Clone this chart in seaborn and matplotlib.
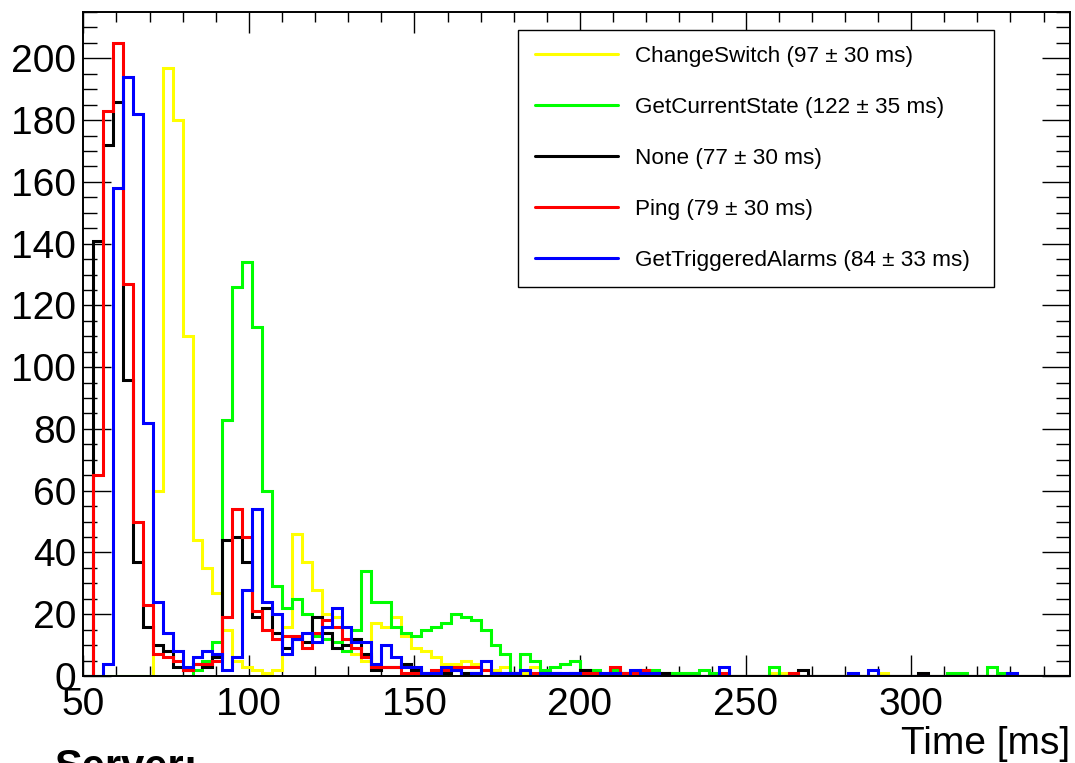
import numpy as np
import pandas as pd
import matplotlib
matplotlib.use("Agg")
import matplotlib.pyplot as plt
import seaborn as sns
from matplotlib.lines import Line2D
from matplotlib.ticker import MultipleLocator

# ---------------- data (counts per 3 ms bin, starting at 50 ms) ----------------
bin_start = 50
bin_width = 3
n_bins = 100

change_switch = [
    0, 0, 0, 0, 0, 0, 0, 60, 197, 180,
    110, 44, 35, 27, 15, 5, 3, 2, 1, 2,
    16, 46, 37, 28, 20, 19, 12, 7, 5, 17,
    16, 19, 13, 9, 8, 6, 4, 4, 5, 4,
    2, 2, 3, 0, 1, 3, 1, 0, 0, 0,
    1, 1, 0, 1, 0, 1, 0, 0, 0, 1,
    1, 0, 0, 1, 0, 0, 0, 0, 0, 1,
    1, 0, 0, 0, 0, 0, 0, 0, 0, 0,
    1, 0, 0, 0, 0, 0, 0, 0, 0, 0,
    0, 0, 0, 0, 0, 0, 0, 0, 0, 0,
]
get_current_state = [
    0, 0, 0, 0, 0, 0, 0, 0, 0, 0,
    0, 2, 5, 11, 83, 126, 134, 113, 60, 29,
    22, 25, 20, 13, 12, 11, 8, 15, 34, 24,
    24, 16, 14, 13, 15, 16, 17, 20, 19, 18,
    15, 10, 7, 0, 7, 5, 2, 3, 4, 5,
    2, 2, 1, 2, 1, 1, 1, 2, 1, 1,
    1, 1, 2, 1, 0, 0, 0, 0, 0, 3,
    0, 0, 0, 0, 0, 0, 0, 0, 0, 0,
    0, 0, 0, 0, 0, 0, 0, 1, 1, 0,
    0, 3, 1, 0, 0, 0, 0, 0, 0, 0,
]
none_req = [
    0, 141, 172, 186, 96, 37, 16, 10, 8, 3,
    2, 4, 3, 6, 44, 45, 37, 19, 22, 14,
    9, 12, 11, 19, 14, 9, 10, 12, 7, 2,
    3, 3, 4, 2, 1, 1, 1, 2, 1, 1,
    0, 1, 0, 1, 0, 0, 1, 1, 0, 1,
    2, 1, 0, 0, 1, 0, 0, 0, 1, 0,
    0, 0, 0, 0, 0, 0, 0, 0, 0, 0,
    0, 0, 2, 0, 0, 0, 0, 0, 0, 0,
    0, 0, 0, 0, 1, 0, 0, 0, 0, 0,
    0, 0, 0, 0, 0, 0, 0, 0, 0, 0,
]
ping = [
    0, 65, 183, 205, 127, 50, 23, 7, 6, 5,
    2, 4, 4, 5, 19, 54, 45, 21, 15, 12,
    13, 13, 9, 14, 18, 16, 12, 9, 6, 3,
    3, 3, 1, 1, 0, 2, 2, 3, 3, 3,
    2, 1, 0, 1, 0, 1, 1, 0, 0, 0,
    1, 1, 0, 3, 1, 1, 2, 1, 0, 0,
    0, 0, 0, 0, 1, 0, 0, 0, 0, 0,
    0, 1, 0, 0, 0, 0, 0, 0, 0, 0,
    0, 0, 0, 0, 0, 0, 0, 0, 0, 0,
    0, 0, 0, 0, 0, 0, 0, 0, 0, 0,
]
get_triggered_alarms = [
    0, 0, 4, 158, 194, 182, 82, 24, 14, 8,
    3, 6, 8, 7, 2, 6, 28, 54, 24, 20,
    7, 12, 14, 11, 16, 22, 16, 11, 11, 4,
    10, 6, 3, 3, 1, 1, 3, 2, 0, 1,
    5, 1, 1, 1, 2, 0, 1, 1, 1, 1,
    0, 0, 1, 1, 0, 2, 1, 1, 0, 0,
    0, 0, 0, 0, 3, 0, 0, 0, 0, 0,
    0, 0, 0, 0, 0, 0, 0, 1, 0, 2,
    0, 0, 0, 0, 0, 0, 0, 0, 0, 0,
    0, 0, 0, 1, 0, 0, 0, 0, 0, 0,
]

labels = [
    "ChangeSwitch (97 \u00b1 30 ms)",
    "GetCurrentState (122 \u00b1 35 ms)",
    "None (77 \u00b1 30 ms)",
    "Ping (79 \u00b1 30 ms)",
    "GetTriggeredAlarms (84 \u00b1 33 ms)",
]
colors = ["#FFFF00", "#00FF00", "#000000", "#FF0000", "#0000FF"]
series = [change_switch, get_current_state, none_req, ping, get_triggered_alarms]

x_tick_major = 50
x_tick_minor = 10
y_tick_major = 20
y_tick_minor = 5

# ---------------- style ----------------
sns.set_style("ticks")
plt.rcParams["font.family"] = ["Liberation Sans", "DejaVu Sans"]
plt.rcParams["lines.solid_joinstyle"] = "miter"
plt.rcParams["text.color"] = "black"
plt.rcParams["axes.labelcolor"] = "black"
plt.rcParams["xtick.color"] = "black"
plt.rcParams["ytick.color"] = "black"
plt.rcParams["axes.edgecolor"] = "black"

bin_end = bin_start + n_bins * bin_width
centers = bin_start + bin_width * (np.arange(n_bins) + 0.5)

fig = plt.figure(figsize=(10.75, 7.63), dpi=100)
ax = fig.add_axes([83.3 / 1075, 87 / 763, (1070 - 83.3) / 1075, (676 - 12) / 763])

for vals, lab, col in zip(series, labels, colors):
    df = pd.DataFrame({"time": centers, "count": np.asarray(vals, dtype=float)})
    sns.histplot(data=df, x="time", weights="count", bins=n_bins,
                 binrange=(bin_start, bin_end),
                 element="step", fill=False, color=col, linewidth=2.2, ax=ax)

ax.set_xlim(50, 348)
ax.set_ylim(0, 215)
ax.set_xlabel("")
ax.set_ylabel("")

ax.xaxis.set_major_locator(MultipleLocator(x_tick_major))
ax.xaxis.set_minor_locator(MultipleLocator(x_tick_minor))
ax.yaxis.set_major_locator(MultipleLocator(y_tick_major))
ax.yaxis.set_minor_locator(MultipleLocator(y_tick_minor))

ax.tick_params(axis="both", which="both", direction="in", top=True, right=True,
               width=1.0, color="black", labelcolor="black")
ax.tick_params(axis="x", which="major", length=15, pad=8, labelsize=28)
ax.tick_params(axis="x", which="minor", length=7.5)
ax.tick_params(axis="y", which="major", length=20, pad=5, labelsize=28)
ax.tick_params(axis="y", which="minor", length=10)
for sp in ax.spines.values():
    sp.set_visible(True)
    sp.set_linewidth(1.4)
    sp.set_color("black")
ax.set_facecolor("white")

handles = [Line2D([0], [0], color=c, lw=2.2) for c in colors]
leg_x0, leg_x1, leg_top, leg_bot = 518.3, 994.0, 30.0, 287.0
leg = ax.legend(handles, labels, loc="upper left", mode="expand",
                bbox_to_anchor=(leg_x0 / 1075, 1 - leg_bot / 763,
                                (leg_x1 - leg_x0) / 1075, (leg_bot - leg_top) / 763),
                bbox_transform=fig.transFigure, borderaxespad=0,
                fontsize=16.2, handlelength=3.7, handletextpad=0.78,
                borderpad=0.72, labelspacing=1.33, fancybox=False,
                framealpha=1, edgecolor="black", labelcolor="black")
leg.get_frame().set_linewidth(1.0)

fig.text(1070 / 1075, 1 - 754 / 763, "Time [ms]", ha="right", va="baseline",
         fontsize=28, color="black")
fig.text(55 / 1075, 1 - 779 / 763, "Server:", ha="left", va="baseline",
         fontsize=30, fontweight="bold", color="black")

fig.savefig("out.png", dpi=100)
